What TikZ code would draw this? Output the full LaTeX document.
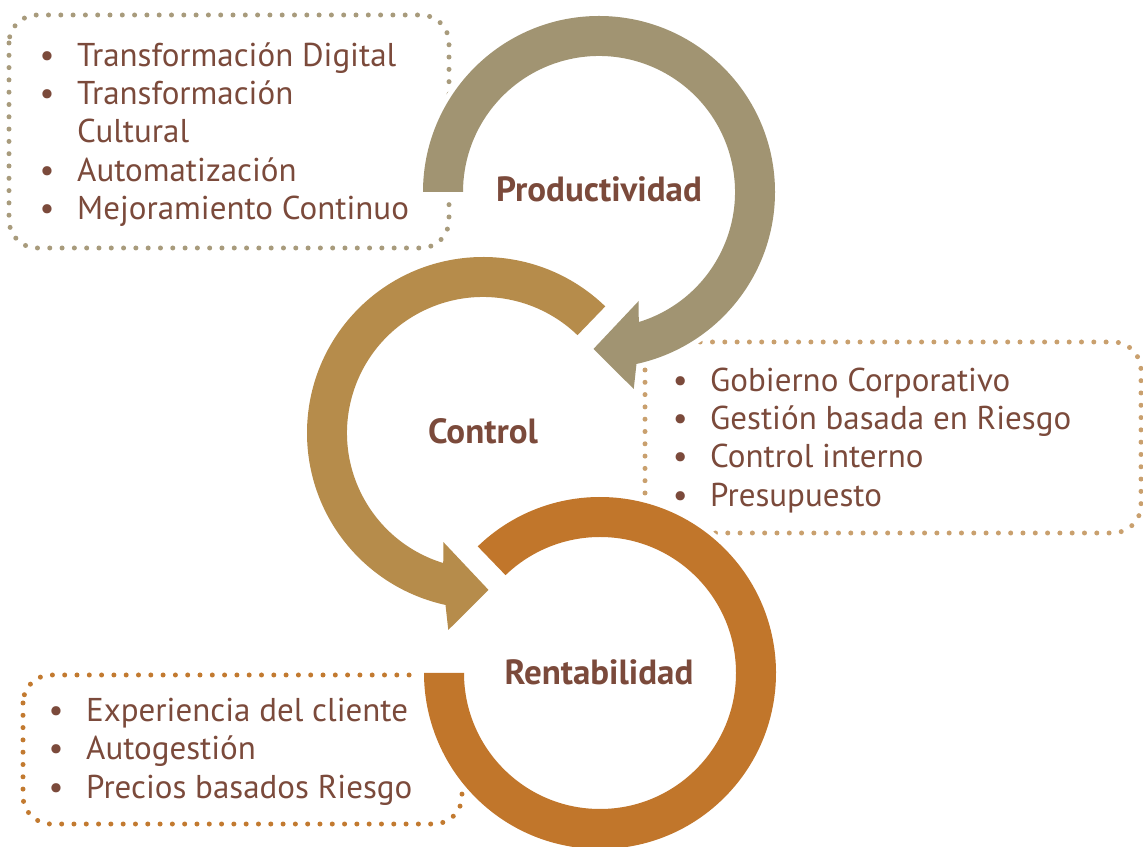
\documentclass[tikz,border=0pt]{standalone}
\usepackage{fontspec}
\setmainfont{PT Sans}
\usetikzlibrary{calc}
\definecolor{pcol}{HTML}{A19472}
\definecolor{ccol}{HTML}{B68C4B}
\definecolor{rcol}{HTML}{C1762B}
\definecolor{txt}{HTML}{7B4A3B}
\definecolor{pdot}{HTML}{A89B7C}
\definecolor{cdot}{HTML}{C9A06E}
\definecolor{rdot}{HTML}{C27A30}
\begin{document}
\begin{tikzpicture}[x=1pt,y=1pt,
  ring/.style={preaction={draw=white,line width=10pt}},
  dotbox/.style={line width=5pt, line cap=round, dash pattern=on 0pt off 12.3pt, rounded corners=28pt},
  item/.style={anchor=base west, inner sep=0pt, text=txt, font=\fontsize{33}{38}\selectfont},
  lbl/.style={anchor=base, inner sep=0pt, text=txt, font=\fontsize{35}{40}\selectfont\bfseries}]
\useasboundingbox (0,0) rectangle (1143,846);
\newcommand{\bul}{\llap{\makebox[0pt]{\textbullet}\hspace{30pt}}}
% centers
\coordinate (P) at (599,654);
\coordinate (C) at (483,413);
\coordinate (R) at (600,173);
% dotted boxes
\draw[dotbox, pdot] (9,831) rectangle (449,598);
\draw[dotbox, cdot] (645,504) rectangle (1141,313);
\draw[dotbox, rdot] (23,171) rectangle (462,22);
% rings
\fill[pcol, ring] ($(P)+(180:176)$) arc[start angle=180,end angle=-77.7,radius=176]
  -- ($(P)+(-80:200)$) -- ($(P)+(-92:157)$) -- ($(P)+(-70:116)$) -- ($(P)+(-73:136)$)
  arc[start angle=-73,end angle=180,radius=136] -- cycle;
\fill[ccol, ring] ($(C)+(46:176)$) arc[start angle=46,end angle=257.7,radius=176]
  -- ($(C)+(260:200)$) -- ($(C)+(272:157)$) -- ($(C)+(250:116)$) -- ($(C)+(253:136)$)
  arc[start angle=253,end angle=46,radius=136] -- cycle;
\fill[rcol, ring] ($(R)+(134:176)$) arc[start angle=134,end angle=-180,radius=176]
  -- ($(R)+(180:136)$) arc[start angle=-180,end angle=134,radius=136] -- cycle;
% labels
\node[lbl] (lp) at (599,644) {Productividad};
\node[lbl] (lc) at (483,402) {Control};
\node[lbl] (lr) at (599,161) {Rentabilidad};
% top box items
\node[item] (t1) at (77,779) {\bul Transformación Digital};
\node[item] (t2) at (77,741) {\bul Transformación};
\node[item] (t3) at (77,703) {Cultural};
\node[item] (t4) at (77,664) {\bul Automatización};
\node[item] (t5) at (77,626) {\bul Mejoramiento Continuo};
% right box items
\node[item] (c1) at (710,454) {\bul Gobierno Corporativo};
\node[item] (c2) at (710,416) {\bul Gestión basada en Riesgo};
\node[item] (c3) at (710,378) {\bul Control interno};
\node[item] (c4) at (710,339) {\bul Presupuesto};
% bottom box items
\node[item] (r1) at (86,124) {\bul Experiencia del cliente};
\node[item] (r2) at (86,86) {\bul Autogestión};
\node[item] (r3) at (86,48) {\bul Precios basados Riesgo};
\end{tikzpicture}
\end{document}
